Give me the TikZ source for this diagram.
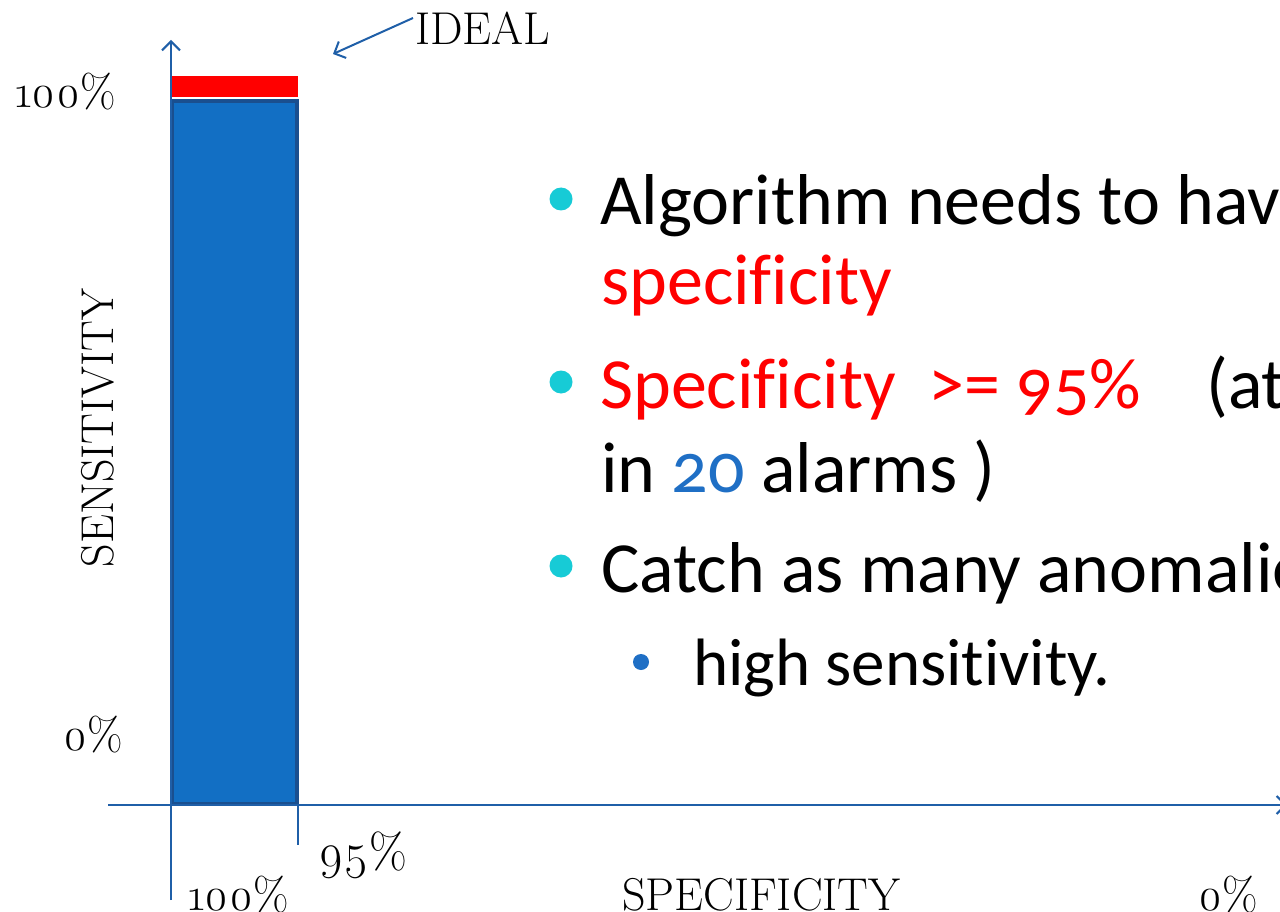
\documentclass[tikz,border=0pt]{standalone}
\usepackage{fontspec}
\usetikzlibrary{arrows.meta}
\newfontfamily\lblfont{Latin Modern Roman}[Numbers=OldStyle]
\newfontfamily\bodyfont{Carlito}[Numbers=OldStyle, Ligatures=NoCommon]
\newcommand{\fnolig}{f\kern0pt}
\definecolor{axisblue}{HTML}{1F5FA8}
\definecolor{barblue}{HTML}{126FC4}
\definecolor{baredge}{HTML}{1A4F8F}
\definecolor{bulletcyan}{HTML}{17CBD6}
\definecolor{numblue}{HTML}{1F6FC5}
\definecolor{idealred}{HTML}{FF0000}
\tikzset{
  axisline/.style={draw=axisblue, line width=2pt},
  axisarrow/.style={axisline, -{Straight Barb[length=9pt,width=18pt,line width=2pt]}},
  lbl/.style={font=\lblfont\fontsize{46}{46}\selectfont, inner sep=0pt, anchor=base west},
  body/.style={font=\bodyfont\fontsize{72}{72}\selectfont, inner sep=0pt, anchor=base west},
  subbody/.style={font=\bodyfont\fontsize{67}{67}\selectfont, inner sep=0pt, anchor=base west},
  dot/.style={circle, fill=bulletcyan, inner sep=0pt, minimum size=23pt},
  subdot/.style={circle, fill=numblue, inner sep=0pt, minimum size=16pt},
}
\begin{document}
\begin{tikzpicture}[x=1pt,y=-1pt]
\useasboundingbox (0,0) rectangle (1280,912);
\fill[white] (0,0) rectangle (1280,912);
\begin{scope}
\clip (0,0) rectangle (1280,912);
% bars
\fill[idealred] (171,76) rectangle (298,97);
\draw[fill=barblue, draw=baredge, line width=4.5pt] (172,101) rectangle (297,804);
% axes
\coordinate (yb) at (171,900);
\coordinate (yt) at (171,40);
\coordinate (xl) at (108,805);
\coordinate (xr) at (1287,805);
\draw[axisarrow] (yb) -- (yt);
\draw[axisarrow] (xl) -- (xr);
\coordinate (tk1) at (298,805);
\coordinate (tk2) at (298,845);
\draw[axisline] (tk1) -- (tk2);
% labels
\node[lbl] (l100) at (15,108) {100\%};
\node[lbl] (l0) at (63,750) {0\%};
\node[lbl, font=\lblfont\fontsize{49}{49}\selectfont] (l95) at (318,868) {95\%};
\node[lbl] (b100) at (188,910) {100\%};
\node[lbl] (spec) at (622,910) {SPECIFICITY};
\node[lbl] (b0) at (1198,910) {0\%};
\node[lbl, anchor=center, rotate=90] (sens) at (98,428) {SENSITIVITY};
\node[lbl] (ideal) at (415,45) {IDEAL};
\coordinate (idealtip) at (333,54);
\draw[axisline, -{Straight Barb[length=9pt,width=18pt,line width=2pt]}] (413,18) -- (idealtip);
% bullets
\node[dot] (d1) at (561,199) {};
\node[body] (t1) at (600,225) {Algorithm needs to have};
\node[body, text=idealred] (t1b) at (601,305) {speci\fnolig icity};
\node[dot] (d2) at (561,382) {};
\node[body] (t2) at (600,408) {\textcolor{idealred}{Speci\fnolig icity~ >= 95\%}~~~ (at};
\node[body] (t2b) at (601,492) {in \textcolor{numblue}{20} alarms )};
\node[dot] (d3) at (561,566) {};
\node[body] (t3) at (601,592) {Catch as many anomalies};
\node[subdot] (d4) at (641,662) {};
\node[subbody] (t4) at (693,685) {high sensitivity.};
\end{scope}
\end{tikzpicture}
\end{document}
